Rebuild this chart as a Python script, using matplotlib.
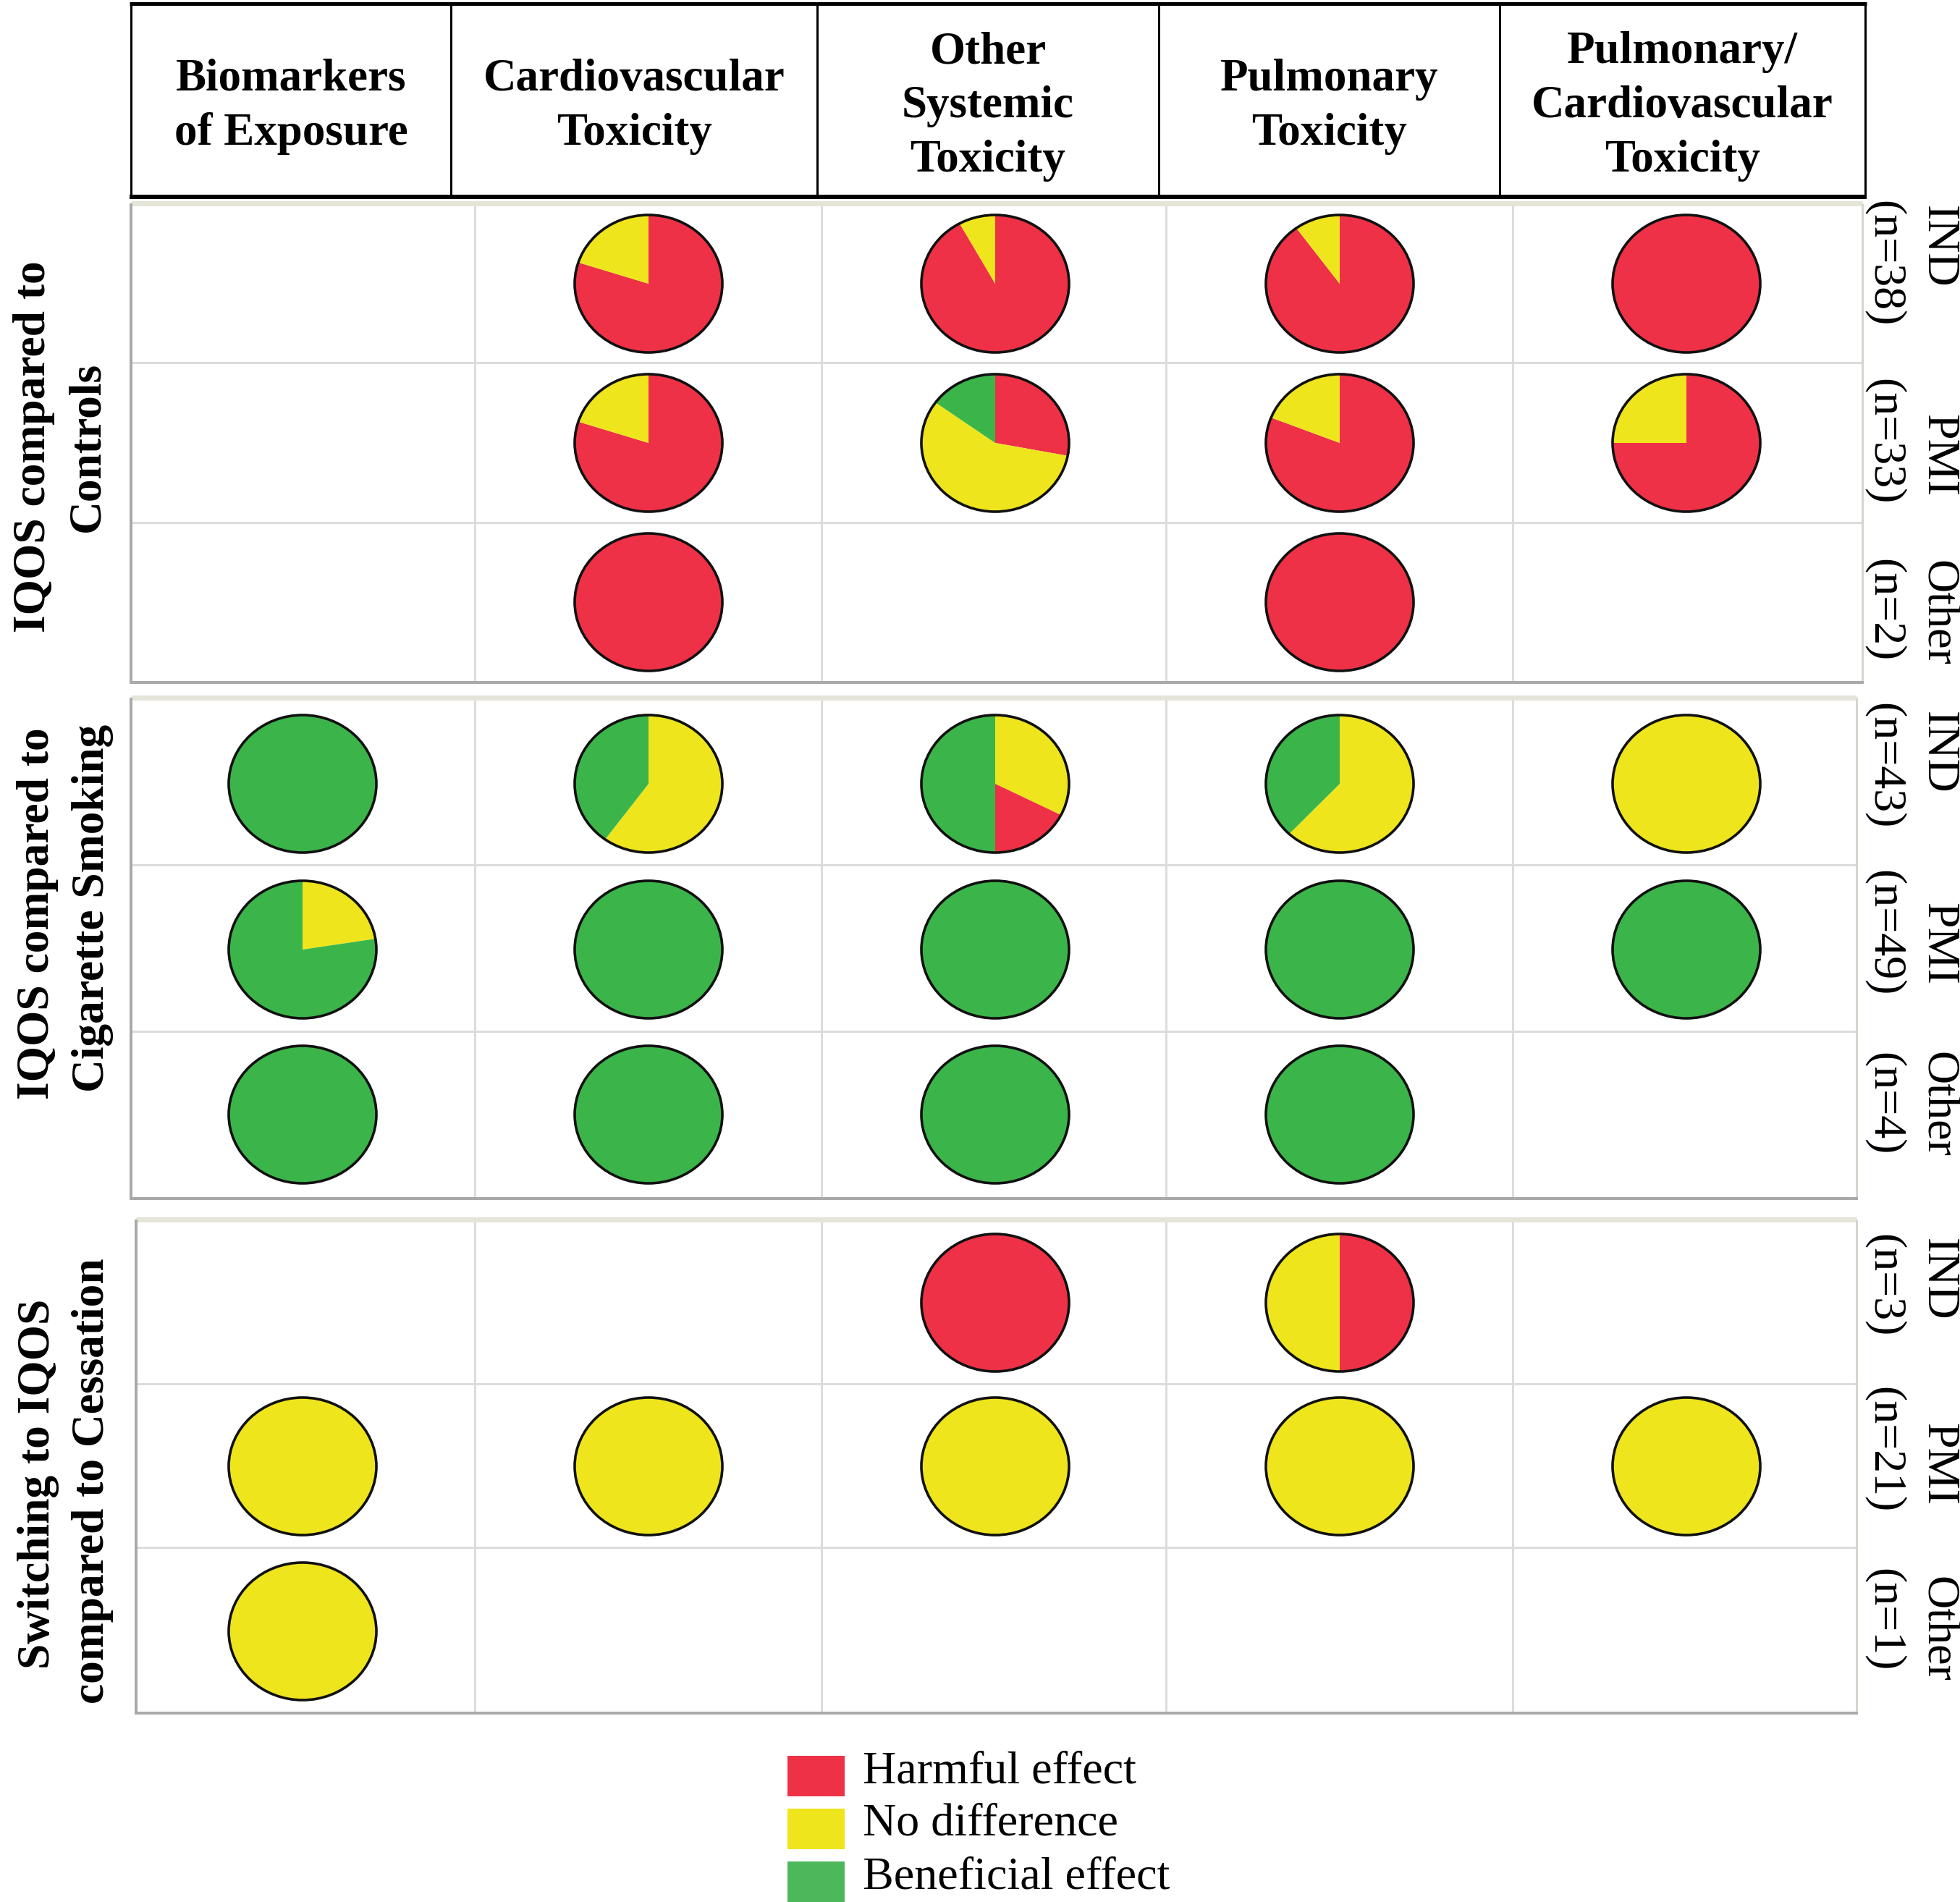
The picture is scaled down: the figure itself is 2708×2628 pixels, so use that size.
import matplotlib
matplotlib.use("Agg")
import matplotlib.pyplot as plt
from matplotlib.patches import Ellipse, Rectangle

# ---------------- data ----------------
columns = ["Biomarkers\nof Exposure", "Cardiovascular\nToxicity", "Other\nSystemic\nToxicity",
           "Pulmonary\nToxicity", "Pulmonary/\nCardiovascular\nToxicity"]
comparisons = [["IQOS compared to", "Controls"],
               ["IQOS compared to", "Cigarette Smoking"],
               ["Switching to IQOS", "compared to Cessation"]]
sources = ["IND", "PMI", "Other"]
study_counts = [[38, 33, 2], [43, 49, 4], [3, 21, 1]]
effects = ["Harmful effect", "No difference", "Beneficial effect"]
effect_colors = ["#EE3146", "#EEE51C", "#3BB54A"]
legend_colors = ["#EE3146", "#EEE51C", "#4DB85B"]

# each cell: list of (effect index, share) clockwise from 12 o'clock; None = no studies
controls = [
    [None, [(0, .80), (1, .20)], [(0, .92), (1, .08)], [(0, .90), (1, .10)], [(0, 1.0)]],
    [None, [(0, .80), (1, .20)], [(0, .28), (1, .57), (2, .15)], [(0, .81), (1, .19)], [(0, .75), (1, .25)]],
    [None, [(0, 1.0)], None, [(0, 1.0)], None],
]
smoking = [
    [[(2, 1.0)], [(1, .60), (2, .40)], [(1, .325), (0, .175), (2, .50)], [(1, .62), (2, .38)], [(1, 1.0)]],
    [[(1, .225), (2, .775)], [(2, 1.0)], [(2, 1.0)], [(2, 1.0)], [(2, 1.0)]],
    [[(2, 1.0)], [(2, 1.0)], [(2, 1.0)], [(2, 1.0)], None],
]
cessation = [
    [None, None, [(0, 1.0)], [(0, .50), (1, .50)], None],
    [[(1, 1.0)], [(1, 1.0)], [(1, 1.0)], [(1, 1.0)], [(1, 1.0)]],
    [[(1, 1.0)], None, None, None, None],
]
panels = [controls, smoking, cessation]

# ---------------- layout (pixels) ----------------
W, H = 2708, 2628
RX, RY = 102, 95
K = RX / RY


def Y(py):
    return (H - py) * K


fig = plt.figure(figsize=(W / 100, H / 100), dpi=100)
fig.patch.set_facecolor("white")
ax = fig.add_axes([0, 0, 1, 1])

SERIF = ["Liberation Serif", "DejaVu Serif"]
PT = 0.72  # px -> pt at 100 dpi

header_x = [181, 623, 1129, 1601, 2072, 2577]
header_top, header_bot = 5, 272
panel_bounds = [(181, 2573, 281, 943, [501, 722]),
                (181, 2565, 964, 1656, [1195, 1425]),
                (188, 2565, 1685, 2367, [1912, 2138])]
panel_cols = [656, 1135, 1611, 2090]
pie_x = [418, 896, 1375, 1851, 2330]
pie_y = [[392, 612, 832], [1083, 1312, 1540], [1800, 2026, 2254]]
left_label_x = [[47, 121], [52, 128], [53, 128]]
left_label_y = [[617, 617], [1262, 1255], [2050, 2046]]
right_name_y = [[341, 629, 847], [1040, 1304, 1526], [1768, 2023, 2251]]
right_count_y = [[364, 610, 843], [1058, 1289, 1525], [1776, 2003, 2238]]


def line(x0, y0, x1, y1, color, wpx):
    ax.plot([x0, x1], [Y(y0), Y(y1)], color=color, lw=wpx * PT, solid_capstyle="butt", zorder=2)


# ---- header ----
line(header_x[0] - 2, header_top, header_x[-1] + 2, header_top, "black", 5)
line(header_x[0] - 2, header_bot, header_x[-1] + 2, header_bot, "black", 6)
for x in header_x:
    line(x, header_top, x, header_bot, "black", 3)

for i, col in enumerate(columns):
    cx = (header_x[i] + header_x[i + 1]) / 2
    lines_ = col.split("\n")
    n = len(lines_)
    center = 140
    for j, t in enumerate(lines_):
        cap_center = center + (j - (n - 1) / 2) * 75
        ax.text(cx, Y(cap_center + 22), t, ha="center", va="baseline",
                fontsize=63 * PT, fontweight="bold", family=SERIF, zorder=3)

# ---- panels ----
for p, (x0, x1, y0, y1, rows) in enumerate(panel_bounds):
    # interior lines
    for ry in rows:
        line(x0, ry, x1, ry, "#DCDCDC", 3)
    for cxl in panel_cols:
        line(cxl, y0, cxl, y1, "#DCDCDC", 3)
    # borders
    line(x0, y0, x1, y0, "#E4E4D8", 7)
    line(x1, y0, x1, y1, "#D6D6CE", 3)
    line(x0, y0, x0, y1, "#A9A9A9", 4)
    line(x0 - 2, y1, x1 + 2, y1, "#A9A9A9", 4)

    # pies
    data = panels[p]
    for r in range(3):
        for c in range(5):
            cell = data[r][c]
            if cell is None:
                continue
            shares = [s for _, s in cell]
            cols = [effect_colors[e] for e, _ in cell]
            cx, cy = pie_x[c], Y(pie_y[p][r])
            ax.pie(shares, colors=cols, startangle=90, counterclock=False,
                   center=(cx, cy), radius=RX,
                   wedgeprops=dict(linewidth=0, antialiased=True))
            ax.add_patch(Ellipse((cx, cy), 2 * RX, 2 * RX, fill=False,
                                 edgecolor="#111111", lw=2.6, zorder=5))

    # left labels
    for j, t in enumerate(comparisons[p]):
        ax.text(left_label_x[p][j], Y(left_label_y[p][j]), t, rotation=90,
                ha="center", va="center", fontsize=63.5 * PT, fontweight="bold",
                family=SERIF, zorder=3)

    # right labels
    for r in range(3):
        ax.text(2677, Y(right_name_y[p][r]), sources[r], rotation=270,
                ha="center", va="center", fontsize=64 * PT, family=SERIF, zorder=3)
        ax.text(2603, Y(right_count_y[p][r]), f"(n={study_counts[p][r]})", rotation=270,
                ha="center", va="center", fontsize=64 * PT, family=SERIF, zorder=3)

# ---- legend ----
leg_y = [2454, 2527, 2600]
for i, lab in enumerate(effects):
    ax.add_patch(Rectangle((1088, Y(leg_y[i] + 28)), 79, 56 * K,
                           facecolor=legend_colors[i], edgecolor="none", zorder=3))
    ax.text(1192, Y(leg_y[i] - 6), lab, ha="left", va="center",
            fontsize=64 * PT, family=SERIF, zorder=3)

ax.set_aspect("auto")
ax.set_xlim(0, W)
ax.set_ylim(0, H * K)
ax.axis("off")

fig.savefig("out.png", dpi=100, facecolor="white")
